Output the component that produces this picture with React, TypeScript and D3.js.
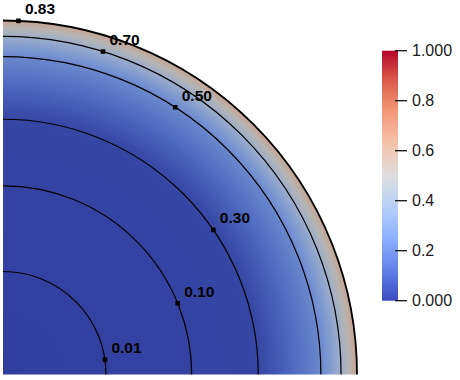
import React from "react";
import * as d3 from "d3";

// contour levels of the field and where they sit (fraction of the disk radius)
const contourLevels = [0.01, 0.1, 0.3, 0.5, 0.7, 0.83];
const contourLabels = ["0.01", "0.10", "0.30", "0.50", "0.70", "0.83"];
const contourRadii = [0.291, 0.533, 0.721, 0.898, 0.955, 1.0];
// angle (deg, from the bottom edge) of each label's marker
const labelAngles = [8.3, 22.2, 34.5, 57.2, 72.8, 87.5];

// colour value seen along the radius
const shadeRadii = [0, 0.72, 0.8, 0.898, 0.955, 1.0];
const shadeValues = [0, 0.02, 0.1, 0.22, 0.39, 0.61];

// colour bar
const barTicks = [0, 0.2, 0.4, 0.6, 0.8, 1];
const barTickLabels = ["0.000", "0.2", "0.4", "0.6", "0.8", "1.000"];

// cool to warm colormap
const cmapPos = [0, 0.125, 0.25, 0.375, 0.5, 0.625, 0.75, 0.875, 1];
const cmapColors = [
  "rgb(59,76,192)",
  "rgb(98,130,234)",
  "rgb(141,176,254)",
  "rgb(184,208,249)",
  "rgb(221,221,221)",
  "rgb(245,196,173)",
  "rgb(244,154,123)",
  "rgb(222,96,77)",
  "rgb(180,4,38)",
];

const W = 460;
const H = 380;
const cx = 3;
const cy = 374.5;
const R = 354;
const shading = 0.82;

export default function App() {
  const rScale = d3.scaleLinear().domain([0, 1]).range([0, R]);
  const cmap = d3
    .scaleLinear<string>()
    .domain(cmapPos)
    .range(cmapColors)
    .interpolate(d3.interpolateRgb);
  const seen = d3.scaleLinear().domain(shadeRadii).range(shadeValues).clamp(true);

  const shaded = (v: number) => {
    const c = d3.rgb(cmap(v));
    return d3.rgb(c.r * shading, c.g * shading, c.b * shading).formatRgb();
  };

  const stops = d3.range(0, 1.0001, 0.01).map((t) => ({
    offset: t,
    color: shaded(seen(t)),
  }));

  const disk = d3.arc()({
    innerRadius: 0,
    outerRadius: R,
    startAngle: 0,
    endAngle: Math.PI / 2,
  } as any) as string;

  const arcPath = (r: number) => {
    const p = d3.path();
    p.moveTo(cx, cy - r);
    p.arc(cx, cy, r, -Math.PI / 2, 0);
    return p.toString();
  };

  // colour bar
  const barX = 382;
  const barW = 16;
  const yBar = d3.scaleLinear().domain([0, 1]).range([300.7, 50.7]);
  const barStops = d3.range(0, 1.0001, 0.05);

  return (
    <svg
      width={W}
      height={H}
      style={{ position: "absolute", left: 0, top: 0, background: "#fff" }}
    >
      <defs>
        <radialGradient id="field" gradientUnits="userSpaceOnUse" cx={0} cy={0} r={R}>
          {stops.map((s, i) => (
            <stop key={i} offset={s.offset} stopColor={s.color} />
          ))}
        </radialGradient>
        <linearGradient id="bar" x1="0" y1="1" x2="0" y2="0">
          {barStops.map((t, i) => (
            <stop key={i} offset={t} stopColor={cmap(t)} />
          ))}
        </linearGradient>
      </defs>

      <path d={disk} transform={`translate(${cx},${cy})`} fill="url(#field)" />

      {contourLevels.map((lv, i) => (
        <path
          key={lv}
          d={arcPath(rScale(contourRadii[i]))}
          fill="none"
          stroke="#000"
          strokeWidth={contourRadii[i] >= 1 ? 1.8 : 1.2}
        />
      ))}

      {contourLevels.map((lv, i) => {
        const a = (labelAngles[i] * Math.PI) / 180;
        const r = rScale(contourRadii[i]);
        const x = cx + r * Math.cos(a);
        const y = cy - r * Math.sin(a);
        return (
          <g key={"l" + lv}>
            <rect x={x - 2.3} y={y - 2.3} width={4.6} height={4.6} fill="#000" />
            <text
              x={x + 6.5}
              y={y - 6.5}
              fontFamily="'Liberation Sans', Arial, sans-serif"
              fontWeight="bold"
              fontSize={15.5}
              fill="#000"
            >
              {contourLabels[i]}
            </text>
          </g>
        );
      })}

      <rect
        x={barX}
        y={yBar(1)}
        width={barW}
        height={yBar(0) - yBar(1)}
        fill="url(#bar)"
      />
      {barTicks.map((t, i) => (
        <g key={"t" + t}>
          <line
            x1={395}
            x2={407}
            y1={yBar(t)}
            y2={yBar(t)}
            stroke="#111"
            strokeWidth={1.3}
          />
          <text
            x={412}
            y={yBar(t)}
            dominantBaseline="central"
            fontFamily="'Liberation Sans', Arial, sans-serif"
            fontSize={16}
            fill="#1a1a1a"
          >
            {barTickLabels[i]}
          </text>
        </g>
      ))}
    </svg>
  );
}
